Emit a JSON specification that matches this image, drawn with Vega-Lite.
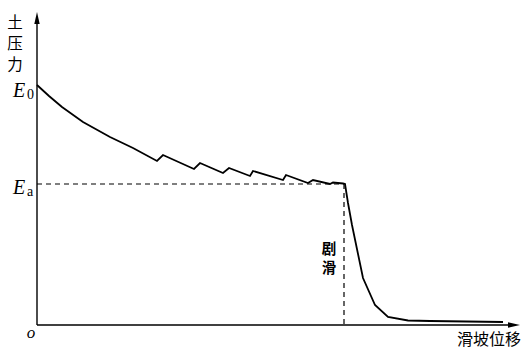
{
  "$schema": "https://vega.github.io/schema/vega-lite/v6.json",
  "width": 483,
  "height": 313,
  "autosize": {"type": "none"},
  "padding": {"left": 37, "top": 12, "right": 7, "bottom": 24},
  "background": "white",
  "config": {"view": {"stroke": null}},
  "datasets": {
    "curve": [
      {"i": 0, "d": 0, "p": 240},
      {"i": 1, "d": 12, "p": 229},
      {"i": 2, "d": 25, "p": 218},
      {"i": 3, "d": 46, "p": 203},
      {"i": 4, "d": 73, "p": 188},
      {"i": 5, "d": 96, "p": 177},
      {"i": 6, "d": 120, "p": 164},
      {"i": 7, "d": 126, "p": 170},
      {"i": 8, "d": 157, "p": 156},
      {"i": 9, "d": 163, "p": 162},
      {"i": 10, "d": 186, "p": 152},
      {"i": 11, "d": 192, "p": 157},
      {"i": 12, "d": 213, "p": 149},
      {"i": 13, "d": 216, "p": 154},
      {"i": 14, "d": 246, "p": 145},
      {"i": 15, "d": 249, "p": 150},
      {"i": 16, "d": 271, "p": 142},
      {"i": 17, "d": 276, "p": 145},
      {"i": 18, "d": 293, "p": 141},
      {"i": 19, "d": 296, "p": 142.5},
      {"i": 20, "d": 306, "p": 141.5},
      {"i": 21, "d": 308, "p": 141},
      {"i": 22, "d": 311, "p": 122},
      {"i": 23, "d": 315, "p": 100},
      {"i": 24, "d": 326, "p": 47},
      {"i": 25, "d": 338, "p": 20},
      {"i": 26, "d": 351, "p": 8},
      {"i": 27, "d": 371, "p": 4.5},
      {"i": 28, "d": 393, "p": 4},
      {"i": 29, "d": 466, "p": 3}
    ],
    "axes": [
      {"d": 0, "p": 0, "d2": 0, "p2": 308},
      {"d": 0, "p": 0, "d2": 478, "p2": 0}
    ],
    "dashes": [
      {"d": 0, "p": 141, "d2": 307, "p2": 141},
      {"d": 307, "p": 141, "d2": 307, "p2": 0}
    ],
    "arrowY": [{"d": 0, "p": 313}],
    "arrowX": [{"d": 483, "p": 0}],
    "eLabels": [
      {"d": -24, "p": 228, "t": "E"},
      {"d": -24, "p": 131, "t": "E"}
    ],
    "subLabels": [
      {"d": -10, "p": 226, "t": "0"},
      {"d": -10, "p": 129, "t": "a"}
    ],
    "origin": [{"d": -6, "p": -13, "t": "o"}],
    "yTitle": [
      {"d": -22, "p": 302.5, "t": "土"},
      {"d": -22, "p": 281.5, "t": "压"},
      {"d": -22, "p": 260.5, "t": "力"}
    ],
    "xTitle": [{"d": 484, "p": -15, "t": "滑坡位移"}],
    "slide": [
      {"d": 292, "p": 75.5, "t": "剧"},
      {"d": 292, "p": 56.5, "t": "滑"}
    ]
  },
  "encoding": {
    "x": {"field": "d", "type": "quantitative", "scale": {"domain": [0, 483]}, "axis": null},
    "y": {"field": "p", "type": "quantitative", "scale": {"domain": [0, 313]}, "axis": null}
  },
  "layer": [
    {
      "data": {"name": "axes"},
      "mark": {"type": "rule", "stroke": "black", "strokeWidth": 1.4},
      "encoding": {"x2": {"field": "d2"}, "y2": {"field": "p2"}}
    },
    {
      "data": {"name": "dashes"},
      "mark": {"type": "rule", "stroke": "black", "strokeWidth": 1.2, "strokeDash": [5, 4]},
      "encoding": {"x2": {"field": "d2"}, "y2": {"field": "p2"}}
    },
    {
      "data": {"name": "arrowY"},
      "mark": {"type": "point", "shape": "M0,0L0.45,2L-0.45,2Z", "size": 144, "filled": true, "color": "black", "opacity": 1, "strokeWidth": 0}
    },
    {
      "data": {"name": "arrowX"},
      "mark": {"type": "point", "shape": "M0,0L-2,-0.45L-2,0.45Z", "size": 144, "filled": true, "color": "black", "opacity": 1, "strokeWidth": 0}
    },
    {
      "data": {"name": "curve"},
      "mark": {"type": "line", "stroke": "black", "strokeWidth": 1.8, "strokeJoin": "miter"},
      "encoding": {"order": {"field": "i", "type": "quantitative"}}
    },
    {
      "data": {"name": "eLabels"},
      "mark": {"type": "text", "font": "Liberation Serif", "fontStyle": "italic", "fontSize": 20, "align": "left", "baseline": "alphabetic", "color": "black"},
      "encoding": {"text": {"field": "t"}}
    },
    {
      "data": {"name": "subLabels"},
      "mark": {"type": "text", "font": "Liberation Serif", "fontSize": 14, "align": "left", "baseline": "alphabetic", "color": "black"},
      "encoding": {"text": {"field": "t"}}
    },
    {
      "data": {"name": "origin"},
      "mark": {"type": "text", "font": "Liberation Serif", "fontStyle": "italic", "fontSize": 17, "align": "center", "baseline": "alphabetic", "color": "black"},
      "encoding": {"text": {"field": "t"}}
    },
    {
      "data": {"name": "yTitle"},
      "mark": {"type": "text", "font": "Noto Sans CJK SC", "fontSize": 15.5, "align": "center", "baseline": "middle", "color": "black"},
      "encoding": {"text": {"field": "t"}}
    },
    {
      "data": {"name": "xTitle"},
      "mark": {"type": "text", "font": "Noto Sans CJK SC", "fontSize": 16, "align": "right", "baseline": "middle", "color": "black"},
      "encoding": {"text": {"field": "t"}}
    },
    {
      "data": {"name": "slide"},
      "mark": {"type": "text", "font": "Noto Sans CJK SC", "fontSize": 14.5, "fontWeight": 600, "align": "center", "baseline": "middle", "color": "black"},
      "encoding": {"text": {"field": "t"}}
    }
  ]
}
